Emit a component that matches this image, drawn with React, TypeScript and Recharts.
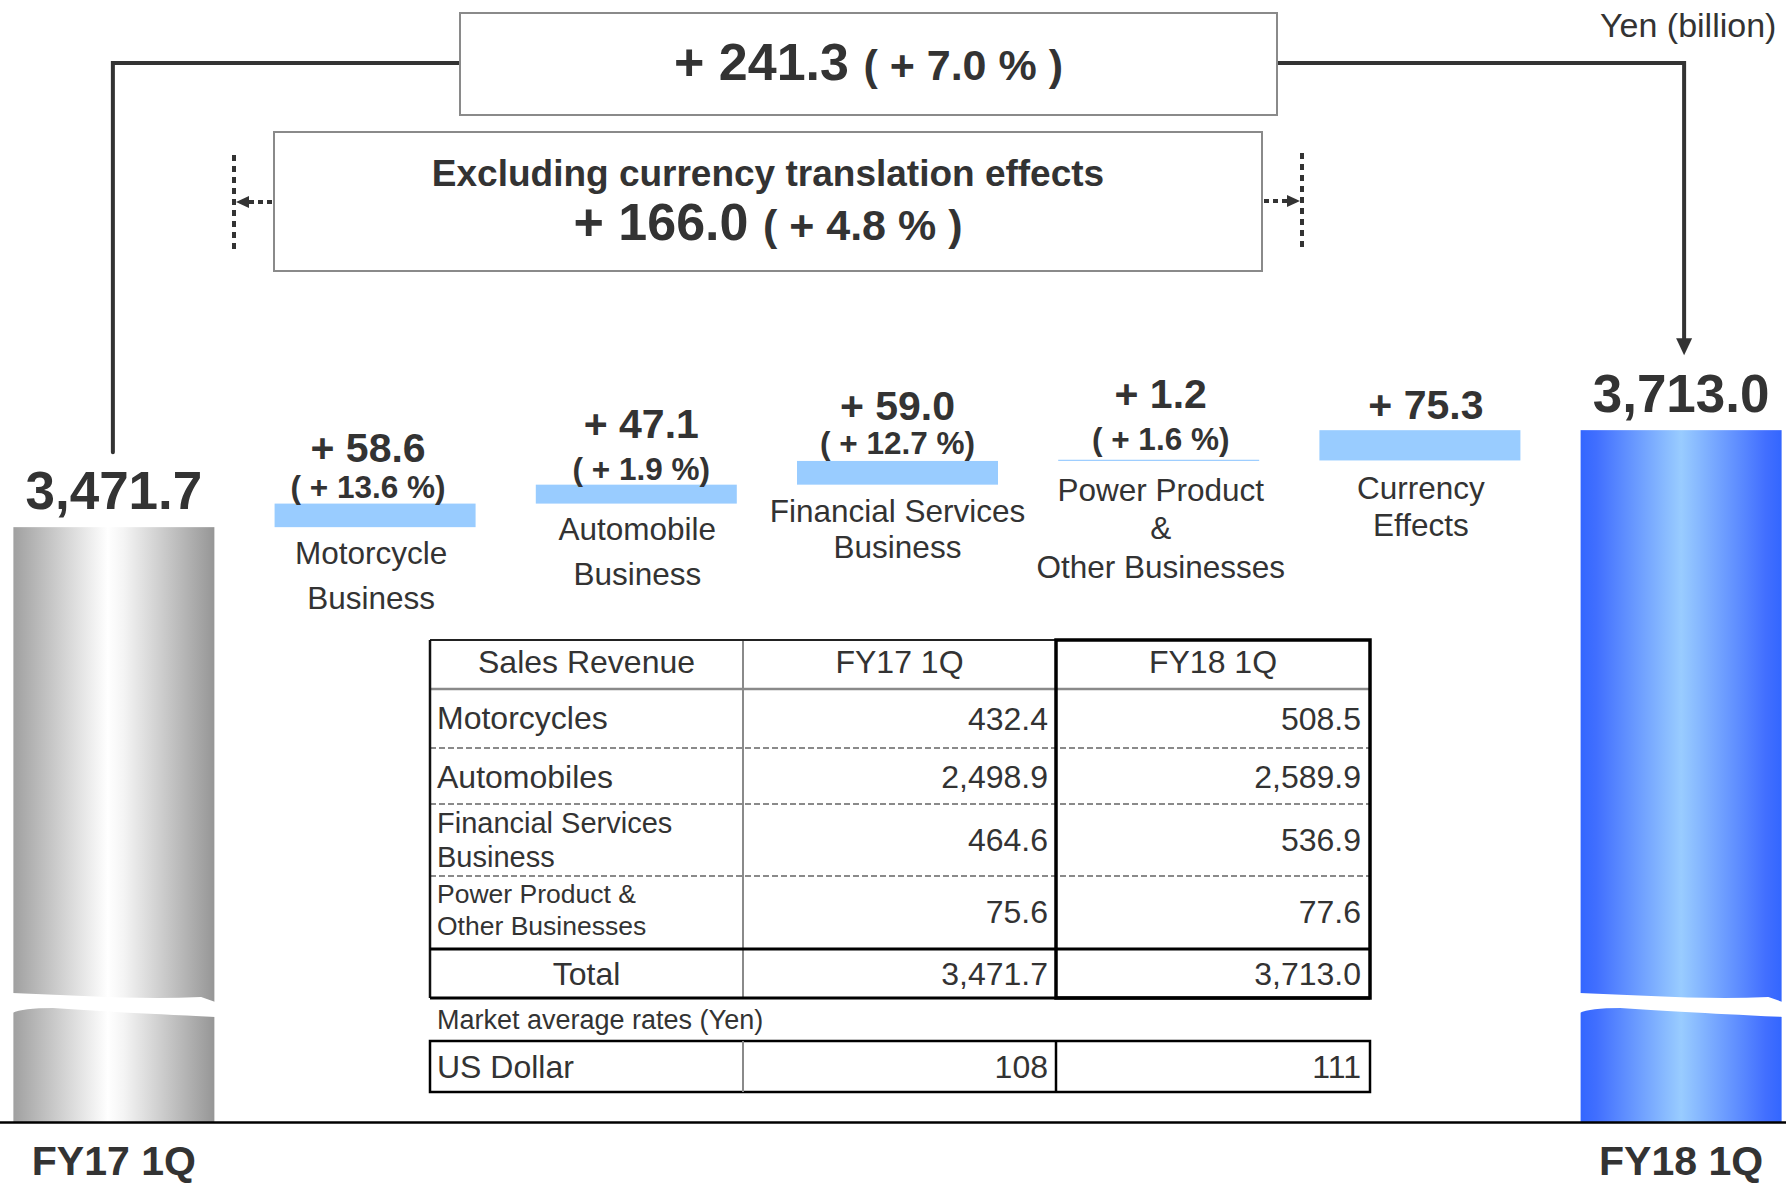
import React from 'react';
import { ComposedChart, Bar, XAxis, YAxis } from 'recharts';

// ---------------- data ----------------
const periods = ['FY17 1Q', 'FY18 1Q'];
const startTotal = 3471.7;
const endTotal = 3713.0;
const stepNames: string[][] = [
  ['Motorcycle', 'Business'],
  ['Automobile', 'Business'],
  ['Financial Services', 'Business'],
  ['Power Product', '&', 'Other Businesses'],
  ['Currency', 'Effects'],
];
const stepDeltas = [58.6, 47.1, 59.0, 1.2, 75.3];
const stepPcts: (number | null)[] = [13.6, 1.9, 12.7, 1.6, null];
const totalChange = 241.3;
const totalChangePct = 7.0;
const exFxChange = 166.0;
const exFxChangePct = 4.8;

const tableHeader = ['Sales Revenue', 'FY17 1Q', 'FY18 1Q'];
const tableSegments: string[][] = [
  ['Motorcycles'],
  ['Automobiles'],
  ['Financial Services', 'Business'],
  ['Power Product &', 'Other Businesses'],
];
const fy17Revenue = [432.4, 2498.9, 464.6, 75.6];
const fy18Revenue = [508.5, 2589.9, 536.9, 77.6];
const revenueTotals = [3471.7, 3713.0];
const usdRates = [108, 111];

// ---------------- layout / style ----------------
const W = 1786;
const H = 1184;
const FONT = '"Liberation Sans", Arial, Helvetica, sans-serif';
const INK = '#333333';
const Y_DOMAIN: [number, number] = [1992, 4783];
const X_DOMAIN: [number, number] = [-0.4, 6.4];
const BAR_W = 201;
const BOX1 = { x1: 460, x2: 1277, y1: 13, y2: 115 };
const BOX2 = { x1: 274, x2: 1262, y1: 132, y2: 271 };
const BRACKET_Y = 63;

const stepLayout = [
  { delta: 42, pct: 6, line0: 37, lh: 45, dx: -7, ldx: -4 },
  { delta: 47, pct: 5, line0: 36, lh: 45, dx: 5, ldx: 1 },
  { delta: 41, pct: 7, line0: 37, lh: 36, dx: 0, ldx: 0 },
  { delta: 52, pct: 10, line0: 40, lh: 38.5, dx: 2, ldx: 2 },
  { delta: 11, pct: 0, line0: 39, lh: 37, dx: 6, ldx: 1 },
];

const fmt1 = (n: number) =>
  n.toLocaleString('en-US', { minimumFractionDigits: 1, maximumFractionDigits: 1 });

// build the waterfall table for recharts
type Row = { pos: number; kind: 'start' | 'step' | 'end'; value?: number; range?: [number, number]; step?: number };
const chartData: Row[] = (() => {
  const rows: Row[] = [{ pos: 0, kind: 'start', value: startTotal }];
  let cum = startTotal;
  stepDeltas.forEach((d, i) => {
    rows.push({ pos: i + 1, kind: 'step', range: [cum, cum + d], step: i });
    cum += d;
  });
  rows.push({ pos: stepDeltas.length + 1, kind: 'end', value: endTotal });
  return rows;
})();

const barValue = (d: Row) => (d.kind === 'step' ? d.range : d.value);

const wavePath = (x: number, w: number, b: number) => {
  const X = (u: number) => x - 1 + (w + 2) * u;
  return `M${X(0)},${b - 129} C${X(0.3)},${b - 127} ${X(0.6)},${b - 122} ${X(0.93)},${b - 125} L${X(1)},${b - 120} L${X(1)},${b - 105} C${X(0.6)},${b - 109} ${X(0.4)},${b - 111} ${X(0.2)},${b - 114} Q${X(0.05)},${b - 114} ${X(0)},${b - 109} Z`;
};

function WaterfallShape(props: any) {
  const { x, y, width, height, payload } = props;
  if (x == null || y == null) return null;
  const cx = x + width / 2;
  const bottom = y + height;
  const txt = { fontFamily: FONT, fill: INK, textAnchor: 'middle' as const };

  if (payload.kind === 'step') {
    const i = payload.step as number;
    const L = stepLayout[i];
    const h = Math.max(height, 1.2);
    const pct = stepPcts[i];
    return (
      <g>
        <rect x={x} y={bottom - h} width={width} height={h} fill="#99CCFF" />
        <text {...txt} x={cx + L.dx} y={y - L.delta} fontSize={41} fontWeight="bold">
          {'+ ' + stepDeltas[i].toFixed(1)}
        </text>
        {pct != null && (
          <text {...txt} x={cx + L.dx} y={y - L.pct} fontSize={31.5} fontWeight="bold">
            {'( + ' + pct.toFixed(1) + ' %)'}
          </text>
        )}
        {stepNames[i].map((line, k) => (
          <text key={k} {...txt} x={cx + L.ldx} y={bottom + L.line0 + k * L.lh} fontSize={31.5}>
            {line}
          </text>
        ))}
      </g>
    );
  }

  const isStart = payload.kind === 'start';
  const gid = isStart ? 'gradStart' : 'gradEnd';
  const lx = isStart ? cx - 1 : cx + 3;
  return (
    <g>
      <defs>
        {isStart ? (
          <linearGradient id={gid} x1="0" y1="0" x2="1" y2="0">
            <stop offset="0" stopColor="#a0a0a0" />
            <stop offset="0.47" stopColor="#ffffff" />
            <stop offset="0.55" stopColor="#f4f4f4" />
            <stop offset="1" stopColor="#969696" />
          </linearGradient>
        ) : (
          <linearGradient id={gid} x1="0" y1="0" x2="1" y2="0">
            <stop offset="0" stopColor="#3366ff" />
            <stop offset="0.08" stopColor="#416fff" />
            <stop offset="0.5" stopColor="#99ccff" />
            <stop offset="0.92" stopColor="#426fff" />
            <stop offset="1" stopColor="#3366ff" />
          </linearGradient>
        )}
      </defs>
      <rect x={x} y={y} width={width} height={height} fill={`url(#${gid})`} />
      <path d={wavePath(x, width, bottom)} fill="#ffffff" />
      <text {...txt} x={cx} y={y - 18} fontSize={53} fontWeight="bold">
        {fmt1(isStart ? startTotal : endTotal)}
      </text>
      <text {...txt} x={cx} y={bottom + 52.5} fontSize={41} fontWeight="bold">
        {periods[isStart ? 0 : 1]}
      </text>
      {isStart ? (
        <polyline
          points={`${lx},${y - 75} ${lx},${BRACKET_Y} ${BOX1.x1},${BRACKET_Y}`}
          fill="none"
          stroke={INK}
          strokeWidth={4}
          strokeLinecap="round"
        />
      ) : (
        <g>
          <polyline
            points={`${BOX1.x2},${BRACKET_Y} ${lx},${BRACKET_Y} ${lx},${y - 90}`}
            fill="none"
            stroke={INK}
            strokeWidth={4}
          />
          <polygon points={`${lx - 8},${y - 92} ${lx + 8},${y - 92} ${lx},${y - 75}`} fill={INK} />
        </g>
      )}
    </g>
  );
}

// ---------------- table geometry ----------------
const TX = [430, 743, 1056, 1370];
const TY = [640, 689, 748, 804, 876, 949, 998];
const UY = [1041, 1092];
const segFont = [32, 32, 29, 26.5];
const segBaselines = [[729], [788], [833, 867], [903, 935]];
const numBaselines = [730, 788, 851, 923];

function Overlay() {
  const t = { fontFamily: FONT, fill: INK };
  return (
    <svg
      width={W}
      height={H}
      style={{ position: 'absolute', left: 0, top: 0, pointerEvents: 'none' }}
    >
      {/* unit */}
      <text {...t} x={1600} y={37} fontSize={34}>Yen (billion)</text>

      {/* box 1 */}
      <rect x={BOX1.x1} y={BOX1.y1} width={BOX1.x2 - BOX1.x1} height={BOX1.y2 - BOX1.y1} fill="#fff" stroke="#8a8a8a" strokeWidth={2} />
      <text {...t} x={(BOX1.x1 + BOX1.x2) / 2} y={80} textAnchor="middle" fontWeight="bold" style={{ whiteSpace: 'pre' }}>
        <tspan fontSize={52}>{'+ ' + totalChange.toFixed(1) + ' '}</tspan>
        <tspan fontSize={43}>{'( + ' + totalChangePct.toFixed(1) + ' % )'}</tspan>
      </text>

      {/* box 2 */}
      <rect x={BOX2.x1} y={BOX2.y1} width={BOX2.x2 - BOX2.x1} height={BOX2.y2 - BOX2.y1} fill="#fff" stroke="#8a8a8a" strokeWidth={2} />
      <text {...t} x={(BOX2.x1 + BOX2.x2) / 2} y={186} textAnchor="middle" fontWeight="bold" fontSize={37}>
        Excluding currency translation effects
      </text>
      <text {...t} x={(BOX2.x1 + BOX2.x2) / 2} y={240} textAnchor="middle" fontWeight="bold" style={{ whiteSpace: 'pre' }}>
        <tspan fontSize={52}>{'+ ' + exFxChange.toFixed(1) + ' '}</tspan>
        <tspan fontSize={43}>{'( + ' + exFxChangePct.toFixed(1) + ' % )'}</tspan>
      </text>

      {/* dotted markers */}
      <line x1={234} y1={155} x2={234} y2={253} stroke={INK} strokeWidth={4} strokeDasharray="6 5" />
      <line x1={272} y1={202} x2={248} y2={202} stroke={INK} strokeWidth={4} strokeDasharray="5 4" />
      <polygon points={`${236},202 ${249},196 ${249},208`} fill={INK} />
      <line x1={1302} y1={153} x2={1302} y2={251} stroke={INK} strokeWidth={4} strokeDasharray="6 5" />
      <line x1={1264} y1={201} x2={1288} y2={201} stroke={INK} strokeWidth={4} strokeDasharray="5 4" />
      <polygon points={`${1300},201 ${1287},195 ${1287},207`} fill={INK} />

      {/* baseline */}
      <line x1={0} y1={1122.5} x2={W} y2={1122.5} stroke="#000" strokeWidth={2.5} />

      {/* revenue table */}
      <g>
        {[TY[2], TY[3], TY[4]].map((yy, k) => (
          <line key={k} x1={TX[0]} y1={yy} x2={TX[3]} y2={yy} stroke="#8a8a8a" strokeWidth={2} strokeDasharray="6 3" />
        ))}
        <line x1={TX[0]} y1={TY[1]} x2={TX[3]} y2={TY[1]} stroke="#8a8a8a" strokeWidth={2.5} />
        <line x1={TX[1]} y1={TY[0]} x2={TX[1]} y2={TY[6]} stroke="#8a8a8a" strokeWidth={2} />
        <line x1={TX[0]} y1={TY[0]} x2={TX[2]} y2={TY[0]} stroke="#222" strokeWidth={2} />
        <line x1={TX[0]} y1={TY[0]} x2={TX[0]} y2={TY[6]} stroke="#111" strokeWidth={2.5} />
        <line x1={TX[0]} y1={TY[5]} x2={TX[3]} y2={TY[5]} stroke="#000" strokeWidth={3} />
        <line x1={TX[0]} y1={TY[6]} x2={TX[3]} y2={TY[6]} stroke="#000" strokeWidth={3} />
        <rect x={TX[2]} y={TY[0]} width={TX[3] - TX[2]} height={TY[6] - TY[0]} fill="none" stroke="#000" strokeWidth={3.5} />

        {tableHeader.map((h, k) => (
          <text key={k} {...t} x={(TX[k] + TX[k + 1]) / 2} y={673} textAnchor="middle" fontSize={32}>
            {h}
          </text>
        ))}
        {tableSegments.map((lines, r) => (
          <g key={r}>
            {lines.map((ln, k) => (
              <text key={k} {...t} x={437} y={segBaselines[r][k]} fontSize={segFont[r]}>
                {ln}
              </text>
            ))}
            <text {...t} x={TX[2] - 8} y={numBaselines[r]} textAnchor="end" fontSize={32}>
              {fmt1(fy17Revenue[r])}
            </text>
            <text {...t} x={TX[3] - 9} y={numBaselines[r]} textAnchor="end" fontSize={32}>
              {fmt1(fy18Revenue[r])}
            </text>
          </g>
        ))}
        <text {...t} x={(TX[0] + TX[1]) / 2} y={985} textAnchor="middle" fontSize={32}>Total</text>
        <text {...t} x={TX[2] - 8} y={985} textAnchor="end" fontSize={32}>{fmt1(revenueTotals[0])}</text>
        <text {...t} x={TX[3] - 9} y={985} textAnchor="end" fontSize={32}>{fmt1(revenueTotals[1])}</text>
      </g>

      {/* rates */}
      <text {...t} x={437} y={1029} fontSize={27}>Market average rates (Yen)</text>
      <rect x={TX[0]} y={UY[0]} width={TX[3] - TX[0]} height={UY[1] - UY[0]} fill="none" stroke="#000" strokeWidth={2.5} />
      <line x1={TX[1]} y1={UY[0]} x2={TX[1]} y2={UY[1]} stroke="#8a8a8a" strokeWidth={2} />
      <line x1={TX[2]} y1={UY[0]} x2={TX[2]} y2={UY[1]} stroke="#000" strokeWidth={2.5} />
      <text {...t} x={437} y={1078} fontSize={32}>US Dollar</text>
      <text {...t} x={TX[2] - 8} y={1078} textAnchor="end" fontSize={32}>{usdRates[0]}</text>
      <text {...t} x={TX[3] - 9} y={1078} textAnchor="end" fontSize={32}>{usdRates[1]}</text>
    </svg>
  );
}

export default function App() {
  return (
    <div
      style={{
        position: 'absolute',
        left: 0,
        top: 0,
        width: W,
        height: H,
        background: '#fff',
        overflow: 'hidden',
      }}
    >
      <ComposedChart
        width={W}
        height={H}
        data={chartData}
        margin={{ top: 0, right: 0.3, left: 9.5, bottom: 62 }}
      >
        <XAxis
          dataKey="pos"
          type="number"
          domain={X_DOMAIN}
          ticks={[0, 1, 2, 3, 4, 5, 6]}
          hide
        />
        <YAxis type="number" domain={Y_DOMAIN} hide />
        <Bar dataKey={barValue as any} barSize={BAR_W} shape={WaterfallShape} isAnimationActive={false} />
      </ComposedChart>
      <Overlay />
    </div>
  );
}
